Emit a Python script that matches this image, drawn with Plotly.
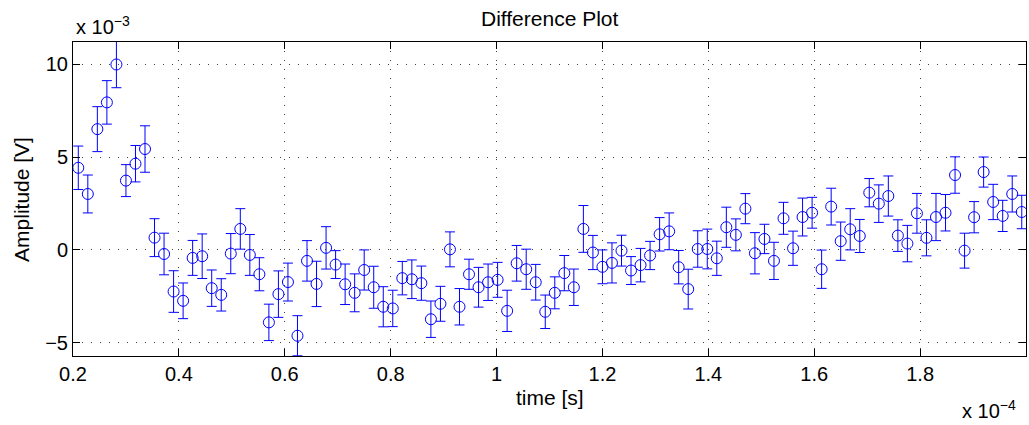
import plotly.graph_objects as go

# time in units of 1e-4 s
time_e4 = [0.210, 0.228, 0.246, 0.264, 0.282, 0.300, 0.318, 0.336, 0.354, 0.372,
           0.390, 0.408, 0.426, 0.444, 0.462, 0.480, 0.498, 0.516, 0.534, 0.552,
           0.570, 0.588, 0.606, 0.624, 0.642, 0.660, 0.678, 0.696, 0.714, 0.732,
           0.750, 0.768, 0.786, 0.804, 0.822, 0.840, 0.858, 0.876, 0.894, 0.912,
           0.930, 0.948, 0.966, 0.984, 1.002, 1.020, 1.038, 1.056, 1.074, 1.092,
           1.110, 1.128, 1.146, 1.164, 1.182, 1.200, 1.218, 1.236, 1.254, 1.272,
           1.290, 1.308, 1.326, 1.344, 1.362, 1.380, 1.398, 1.416, 1.434, 1.452,
           1.470, 1.488, 1.506, 1.524, 1.542, 1.560, 1.578, 1.596, 1.614, 1.632,
           1.650, 1.668, 1.686, 1.704, 1.722, 1.740, 1.758, 1.776, 1.794, 1.812,
           1.830, 1.848, 1.866, 1.884, 1.902, 1.920, 1.938, 1.956, 1.974, 1.992]

# amplitude in units of 1e-3 V
amp_e3 = [4.42, 3.01, 6.50, 7.94, 9.98, 3.73, 4.64, 5.43, 0.66, -0.22,
          -2.24, -2.74, -0.43, -0.34, -2.06, -2.42, -0.20, 1.13, -0.27, -1.31,
          -3.90, -2.38, -1.73, -4.62, -0.59, -1.83, 0.11, -0.79, -1.85, -2.31,
          -1.08, -2.01, -3.06, -3.15, -1.52, -1.58, -1.79, -3.73, -2.90, 0.03,
          -3.06, -1.31, -2.01, -1.74, -1.61, -3.28, -0.72, -1.04, -1.74, -3.33,
          -2.31, -1.25, -2.01, 1.13, -0.14, -0.91, -0.70, -0.04, -1.11, -0.82,
          -0.30, 0.84, 1.00, -0.93, -2.11, 0.05, 0.05, -0.45, 1.22, 0.81,
          2.22, -0.18, 0.59, -0.59, 1.70, 0.09, 1.77, 2.00, -1.04, 2.33,
          0.47, 1.11, 0.75, 3.08, 2.49, 2.90, 0.77, 0.34, 1.97, 0.65,
          1.77, 2.00, 4.03, -0.04, 1.76, 4.19, 2.58, 1.83, 3.01, 2.04]

err_e3 = [1.17, 1.02, 1.21, 1.17, 1.25, 0.86, 0.98, 1.25, 1.02, 1.12,
          1.12, 0.96, 0.94, 1.20, 0.98, 0.87, 1.08, 1.09, 1.10, 0.89,
          0.98, 1.25, 1.02, 1.08, 1.09, 1.22, 1.14, 0.75, 1.09, 1.02,
          1.08, 1.13, 1.08, 0.98, 0.90, 1.04, 0.92, 0.98, 0.94, 0.94,
          0.98, 0.81, 1.07, 0.98, 0.94, 1.11, 0.96, 1.08, 0.96, 0.90,
          0.86, 0.95, 0.98, 1.26, 0.92, 0.91, 1.08, 0.83, 0.75, 0.90,
          0.76, 0.90, 0.99, 0.90, 1.07, 0.98, 1.07, 0.92, 1.08, 0.86,
          0.81, 1.11, 0.79, 1.00, 0.86, 0.92, 1.02, 0.83, 1.03, 0.99,
          1.03, 1.11, 0.89, 0.76, 1.01, 1.08, 0.85, 0.98, 1.07, 0.97,
          1.27, 0.98, 0.98, 0.94, 0.84, 0.81, 0.95, 0.84, 0.97, 0.90]

x_ticks = [0.2, 0.4, 0.6, 0.8, 1.0, 1.2, 1.4, 1.6, 1.8]
x_tick_labels = ["0.2", "0.4", "0.6", "0.8", "1", "1.2", "1.4", "1.6", "1.8"]
y_ticks = [-5, 0, 5, 10]
y_tick_labels = ["\u22125", "0", "5", "10"]

FONT = "Liberation Sans, Arial, Helvetica, sans-serif"
BLUE = "#0000FF"

fig = go.Figure()
fig.add_trace(go.Scatter(
    x=time_e4, y=amp_e3, mode="markers",
    marker=dict(symbol="circle-open", size=11, color=BLUE, line=dict(width=1, color=BLUE)),
    error_y=dict(type="data", array=err_e3, visible=True, color=BLUE, thickness=1, width=5),
    showlegend=False,
))

axis_common = dict(
    showline=True, linecolor="black", linewidth=1, mirror="allticks",
    ticks="inside", ticklen=7, tickcolor="black", tickwidth=1,
    showgrid=True, gridcolor="rgba(0,0,0,0.75)", gridwidth=1, griddash="1px,8px",
    zeroline=False, automargin=False,
    tickfont=dict(family=FONT, size=20, color="black"),
)

fig.update_xaxes(range=[0.2, 2.0], tickvals=x_ticks, ticktext=x_tick_labels, **axis_common)
fig.update_yaxes(range=[-5.71, 11.19], tickvals=y_ticks, ticktext=y_tick_labels, **axis_common)

ann_font = dict(family=FONT, size=20, color="black")
fig.update_layout(
    width=1029, height=425,
    margin=dict(l=73, r=3, t=42, b=69),
    paper_bgcolor="white", plot_bgcolor="white",
    annotations=[
        dict(text="Difference Plot", xref="paper", yref="paper", x=0.5, y=1,
             xanchor="center", yanchor="bottom", yshift=10, showarrow=False,
             font=dict(family=FONT, size=21, color="black")),
        dict(text="time [s]", xref="paper", yref="paper", x=0.5, y=0,
             xanchor="center", yanchor="top", yshift=-28, showarrow=False,
             font=dict(family=FONT, size=21, color="black")),
        dict(text="Amplitude [V]", xref="paper", yref="paper", x=-0.0546, y=0.5,
             xanchor="center", yanchor="middle", textangle=-90, showarrow=False,
             font=dict(family=FONT, size=21, color="black")),
        dict(text="x 10<sup>\u22123</sup>", xref="paper", yref="paper", x=0.001, y=1,
             xanchor="left", yanchor="bottom", yshift=2, showarrow=False, font=ann_font),
        dict(text="x 10<sup>\u22124</sup>", xref="paper", yref="paper", x=0.9916, y=0,
             xanchor="right", yanchor="top", yshift=-39, showarrow=False, font=ann_font),
    ],
)

fig.write_html("out.html")
